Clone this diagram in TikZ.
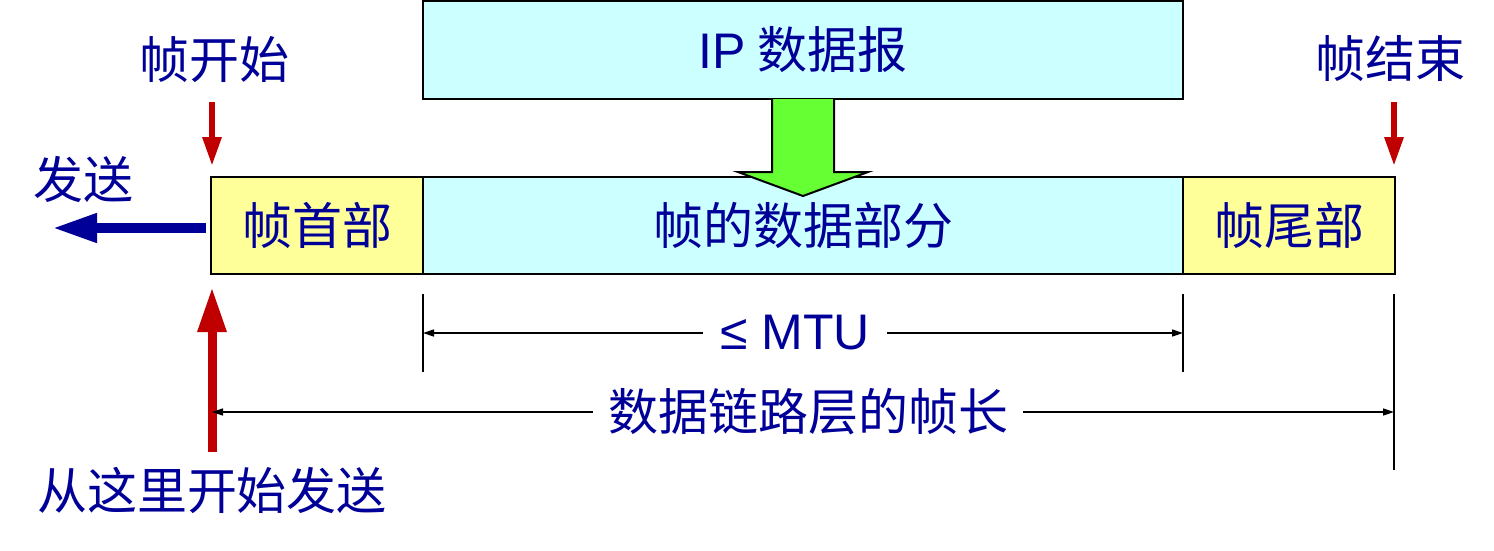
\documentclass[tikz,border=0pt]{standalone}
\usepackage{fontspec}
\setmainfont{Noto Sans CJK SC}
\newfontfamily\lat{Liberation Sans}
\usetikzlibrary{arrows.meta}
\definecolor{txt}{HTML}{000099}
\definecolor{cyanbox}{HTML}{CCFFFF}
\definecolor{yelbox}{HTML}{FFFF99}
\definecolor{grn}{HTML}{66FF33}
\definecolor{redarr}{HTML}{C00000}
\tikzset{
  lbl/.style={text=txt, font=\fontsize{50pt}{56pt}\selectfont, inner sep=0pt},
  box/.style={draw=black, line width=2pt, inner sep=0pt, minimum height=97pt, text=txt, font=\fontsize{50pt}{56pt}\selectfont},
  reddown/.style={draw=redarr, line width=6pt, -{Triangle[length=29pt,width=18pt]}, redarr},
  redup/.style={draw=redarr, line width=9pt, -{Triangle[length=45pt,width=27pt]}, redarr},
  bluearr/.style={draw=txt, line width=10pt, -{Triangle[length=45pt,width=27pt]}, txt},
  thin/.style={draw=black, line width=1.5pt},
  dim/.style={thin, -{Triangle[length=11pt,width=7pt]}},
}
\begin{document}
\begin{tikzpicture}[x=1pt,y=-1pt]
\useasboundingbox (0,0) rectangle (1494,550);
% boxes
\node[box, fill=cyanbox, minimum width=760pt, minimum height=98pt] (ip) at (803,50) {{\lat IP} 数据报};
\node[box, fill=yelbox, minimum width=212pt] (hdr) at (317,225.5) {帧首部};
\node[box, fill=cyanbox, minimum width=760pt] (data) at (803,225.5) {帧的数据部分};
\node[box, fill=yelbox, minimum width=212pt] (trl) at (1289,225.5) {帧尾部};
% green arrow
\fill[grn] (772,99) -- (772,172) -- (738,172) -- (803,196) -- (868,172) -- (834,172) -- (834,99) -- cycle;
\draw[line width=2pt, line join=miter] (772,99) -- (772,172) -- (738,172) -- (803,196) -- (868,172) -- (834,172) -- (834,99);
% labels
\node[lbl] (fs) at (214,60) {帧开始};
\node[lbl] (fe) at (1390,59) {帧结束};
\node[lbl] (send) at (84,179) {发送};
\node[lbl] (here) at (212,490) {从这里开始发送};
% red down arrows
\coordinate (fsa) at (212,102);
\coordinate (fsb) at (212,166);
\coordinate (fea) at (1394,102);
\coordinate (feb) at (1394,166);
\draw[reddown] (fsa) -- (fsb);
\draw[reddown] (fea) -- (feb);
% red up arrow
\coordinate (upa) at (212,452);
\coordinate (upb) at (212,287);
\draw[redup] (upa) -- (upb);
% blue send arrow
\coordinate (sa) at (206,228);
\coordinate (sb) at (52,228);
\draw[bluearr] (sa) -- (sb);
% vertical extension lines
\coordinate (v1a) at (423,294); \coordinate (v1b) at (423,372);
\coordinate (v2a) at (1183,294); \coordinate (v2b) at (1183,372);
\coordinate (v3a) at (1394,294); \coordinate (v3b) at (1394,470);
\draw[thin] (v1a) -- (v1b);
\draw[thin] (v2a) -- (v2b);
\draw[thin] (v3a) -- (v3b);
% MTU dimension
\node[lbl, inner xsep=17pt, font=\fontsize{50pt}{56pt}\selectfont\lat] (mtu) at (795,333) {≤ MTU};
\coordinate (m1) at (423,333);
\coordinate (m2) at (1183,333);
\draw[dim] (mtu.west |- m1) -- (m1);
\draw[dim] (mtu.east |- m2) -- (m2);
% frame length dimension
\node[lbl, inner xsep=15pt] (flen) at (808,412) {数据链路层的帧长};
\coordinate (f1) at (212,412);
\coordinate (f2) at (1394,412);
\draw[dim] (flen.west |- f1) -- (f1);
\draw[dim] (flen.east |- f2) -- (f2);
\end{tikzpicture}
\end{document}
